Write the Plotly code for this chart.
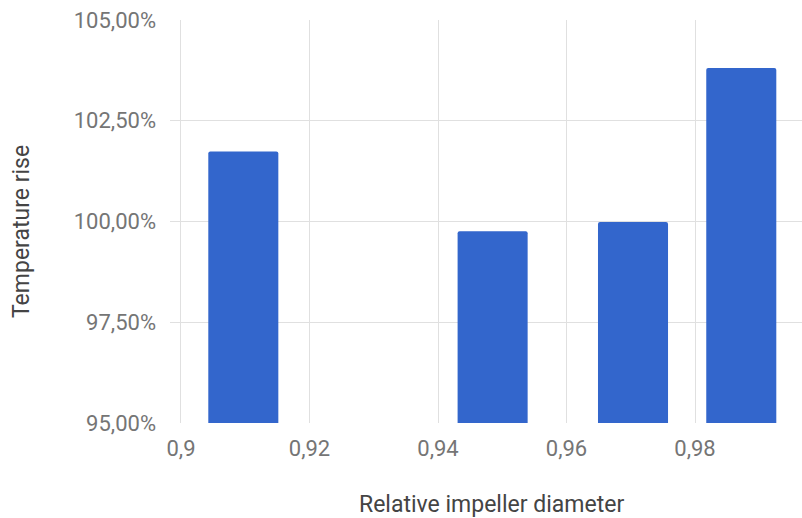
import plotly.graph_objects as go

diameters = [0.9097, 0.9485, 0.97035, 0.9872]
temp_rise = [1.0174, 0.9976, 0.9999, 1.0381]
bar_width = 0.0109
x_ticks = [0.9, 0.92, 0.94, 0.96, 0.98]
y_ticks = [0.95, 0.975, 1.0, 1.025, 1.05]
x_title = "Relative impeller diameter"
y_title = "Temperature rise"

L, T, B, W, H = 170, 20, 95, 802, 518
pw, ph = W - L, H - T - B

fig = go.Figure(go.Bar(
    x=diameters, y=temp_rise, width=bar_width,
    marker=dict(color="#3366CC", line=dict(width=0)),
))

fig.update_layout(
    width=W, height=H,
    margin=dict(l=L, r=0, t=T, b=B),
    paper_bgcolor="white", plot_bgcolor="white",
    separators=",.",
    font=dict(family="Roboto", size=22, color="#757575"),
    showlegend=False,
    barcornerradius=2,
)
fig.update_xaxes(
    range=[0.89829, 0.99665],
    tickvals=x_ticks,
    showgrid=True, gridcolor="#e0e0e0", gridwidth=1,
    zeroline=False, showline=False,
    ticks="", ticklabelstandoff=10,
)
fig.update_yaxes(
    range=[0.95, 1.05],
    tickvals=y_ticks, tickformat=".2%",
    showgrid=True, gridcolor="#e0e0e0", gridwidth=1,
    zeroline=False, showline=False,
    ticks="", ticklabelstandoff=13,
)
fig.add_annotation(
    text=x_title, xref="paper", yref="paper",
    x=(491.5 - L) / pw, y=(T + ph - 505) / ph,
    xanchor="center", yanchor="middle", showarrow=False,
    font=dict(size=23, color="#444444"),
)
fig.add_annotation(
    text=y_title, xref="paper", yref="paper",
    x=(21 - L) / pw, y=(T + ph - 232) / ph,
    xanchor="center", yanchor="middle", showarrow=False, textangle=-90,
    font=dict(size=23, color="#444444"),
)

fig.write_html("out.html")
